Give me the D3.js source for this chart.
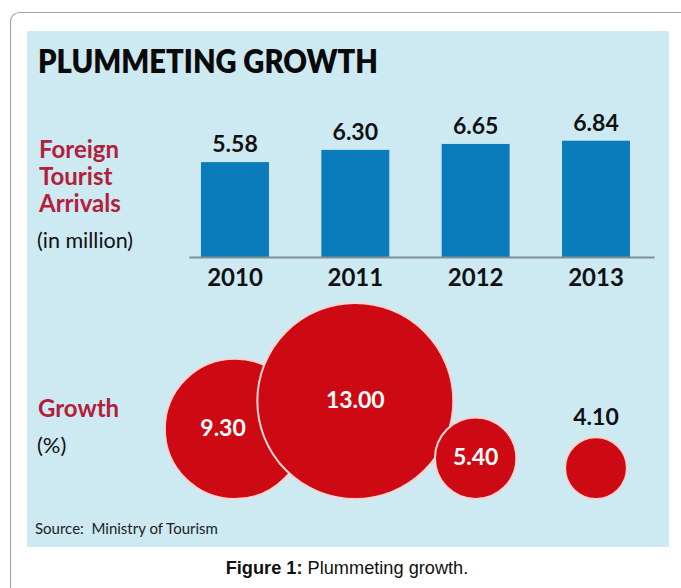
<!DOCTYPE html>
<html>
<head>
<meta charset="utf-8">
<script src="https://cdn.jsdelivr.net/npm/d3@7"></script>
<style>
  body { margin: 0; background: #fff; }
  svg { display: block; }
  text { white-space: pre; }
</style>
</head>
<body>
<svg id="chart" width="681" height="588"></svg>
<script>
// Foreign tourist arrivals (million) and annual growth (%)
const years = ["2010", "2011", "2012", "2013"];
const arrivals = [5.58, 6.30, 6.65, 6.84];
const growth = [9.30, 13.00, 5.40, 4.10];

const titleText = "PLUMMETING GROWTH";
const arrivalsTitle = ["Foreign", "Tourist", "Arrivals"];
const arrivalsUnit = "(in million)";
const growthTitle = "Growth";
const growthUnit = "(%)";
const sourceText = "Source:  Ministry of Tourism";
const captionBold = "Figure 1:";
const captionText = " Plummeting growth.";

const fmt = d3.format(".2f");
const svg = d3.select("#chart");

const FONT = "Lato, 'Open Sans', sans-serif";
const RED_TEXT = "#b3203a";
const BAR = "#0a7bbb";
const BUBBLE = "#cd0a14";

// card frame and tinted panel
svg.append("rect")
  .attr("x", 10.5).attr("y", 12.5).attr("width", 700).attr("height", 620)
  .attr("rx", 9).attr("fill", "none").attr("stroke", "#a3a3a3").attr("stroke-width", 1.2);
svg.append("rect")
  .attr("x", 27).attr("y", 31).attr("width", 642).attr("height", 516)
  .attr("fill", "#cde9f2");

// title
svg.append("text")
  .attr("x", 38).attr("y", 73)
  .attr("textLength", 340).attr("lengthAdjust", "spacingAndGlyphs")
  .style("font-family", FONT).style("font-weight", 800).style("font-size", "32px")
  .attr("fill", "#0a0a0a")
  .text(titleText);

// side labels
const side = svg.append("g").style("font-family", FONT);
side.selectAll("text.arr").data(arrivalsTitle).join("text")
  .attr("class", "arr")
  .attr("x", 39).attr("y", (d, i) => 158 + i * 27)
  .attr("fill", RED_TEXT).style("font-weight", 700).style("font-size", "24px")
  .text(d => d);
side.append("text").attr("x", 37).attr("y", 248)
  .attr("fill", "#111").style("font-size", "21.5px").text(arrivalsUnit);
side.append("text").attr("x", 38).attr("y", 417)
  .attr("fill", RED_TEXT).style("font-weight", 700).style("font-size", "24px").text(growthTitle);
side.append("text").attr("x", 37).attr("y", 453)
  .attr("fill", "#111").style("font-size", "22px").text(growthUnit);

// bar chart of arrivals
const x = d3.scaleBand().domain(years)
  .range([189, 654]).paddingInner(0.435).paddingOuter(0.1496).align(0.333);
const y = d3.scaleLinear().domain([0, 8]).range([257, 121]);

svg.append("g").selectAll("rect").data(arrivals).join("rect")
  .attr("x", (d, i) => x(years[i]))
  .attr("y", d => y(d))
  .attr("width", x.bandwidth())
  .attr("height", d => y(0) - y(d))
  .attr("fill", BAR);

svg.append("g").selectAll("text").data(arrivals).join("text")
  .attr("x", (d, i) => x(years[i]) + x.bandwidth() / 2)
  .attr("y", d => y(d) - 10)
  .attr("text-anchor", "middle")
  .style("font-family", FONT).style("font-weight", 700).style("font-size", "23px")
  .attr("fill", "#111")
  .text(d => fmt(d));

const axis = svg.append("g")
  .attr("transform", `translate(0,${y(0)})`)
  .call(d3.axisBottom(x).tickSize(0).tickSizeOuter(0));
axis.select(".domain").attr("stroke", "#7f8f95").attr("stroke-width", 2);
axis.selectAll(".tick text")
  .attr("y", 29).attr("dy", null)
  .style("font-family", FONT).style("font-weight", 700).style("font-size", "24px")
  .attr("fill", "#111");

// bubbles of growth, sized linearly by value and resting on a common base
const r = d3.scaleLinear().domain([0, 13]).range([0, 98]);
const base = 499;
const bubbles = growth.map((g, i) => ({
  g, cx: x(years[i]) + x.bandwidth() / 2, r: r(g)
}));
bubbles.forEach(b => { b.cy = base - b.r; });

svg.append("g").selectAll("circle").data(bubbles).join("circle")
  .attr("cx", d => d.cx).attr("cy", d => d.cy).attr("r", d => d.r)
  .attr("fill", BUBBLE).attr("stroke", "#f7d6d2").attr("stroke-width", 2);

// label sits toward the visible part when a bigger neighbour covers the right side
function labelX(d, i) {
  const next = bubbles[i + 1];
  if (next && next.r > d.r && next.cx - next.r < d.cx + d.r) {
    const mid = ((d.cx - d.r) + (next.cx - next.r)) / 2;
    return (d.cx + mid) / 2;
  }
  return d.cx;
}

svg.append("g").selectAll("text").data(bubbles).join("text")
  .attr("x", (d, i) => labelX(d, i))
  .attr("y", d => d.r < 35 ? d.cy - d.r - 12 : d.cy + 7)
  .attr("text-anchor", "middle")
  .style("font-family", FONT).style("font-weight", 700).style("font-size", "23px")
  .attr("fill", d => d.r < 35 ? "#111" : "#fff")
  .text(d => fmt(d.g));

// source note
svg.append("text").attr("x", 35).attr("y", 534)
  .style("font-family", FONT).style("font-size", "15px").attr("fill", "#222")
  .text(sourceText);

// caption
const cap = svg.append("text").attr("x", 347).attr("y", 574)
  .attr("text-anchor", "middle")
  .style("font-family", "'Liberation Sans', Arial, sans-serif").style("font-size", "18.2px")
  .attr("fill", "#111");
cap.append("tspan").style("font-weight", 700).text(captionBold);
cap.append("tspan").text(captionText);
</script>
</body>
</html>
